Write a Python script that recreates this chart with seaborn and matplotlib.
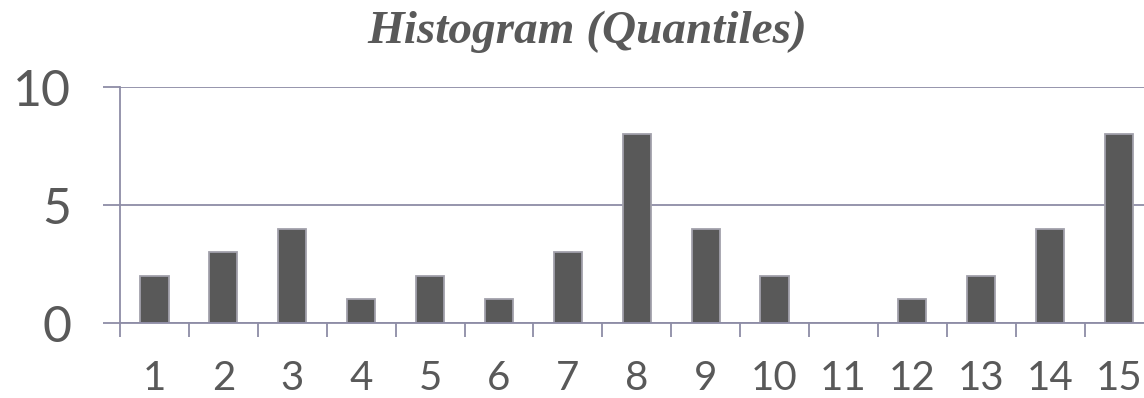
import matplotlib
matplotlib.use("Agg")
import matplotlib.pyplot as plt
import seaborn as sns
import pandas as pd

quantiles = ["1", "2", "3", "4", "5", "6", "7", "8", "9", "10", "11", "12", "13", "14", "15"]
counts = [2, 3, 4, 1, 2, 1, 3, 8, 4, 2, 0, 1, 2, 4, 8]
y_ticks = [0, 5, 10]
title = "Histogram (Quantiles)"

text_color = "#595959"
line_color = "#8e8ca6"
bar_color = "#595959"
edge_color = "#a2a1ab"

sns.set_theme(style="white")
plt.rcParams["font.family"] = ["Lato", "DejaVu Sans"]

df = pd.DataFrame({"quantile": quantiles, "count": counts})

fig = plt.figure(figsize=(11.44, 3.98), dpi=100)
ax = fig.add_axes([120 / 1144, 75 / 398, 1033.5 / 1144, 236 / 398])

sns.barplot(data=df, x="quantile", y="count", order=quantiles, color=bar_color,
            width=0.41, edgecolor=edge_color, linewidth=1.3, saturation=1, ax=ax)

ax.set_ylim(0, 10)
ax.set_xlim(-0.5, len(quantiles) - 0.5)
ax.set_yticks(y_ticks)
ax.set_yticklabels([str(v) for v in y_ticks])
ax.set_xlabel("")
ax.set_ylabel("")

# horizontal gridlines at the major y ticks
ax.yaxis.grid(True, color=line_color, linewidth=1.3)
ax.set_axisbelow(True)

for side in ["top", "right"]:
    ax.spines[side].set_visible(False)
for side in ["left", "bottom"]:
    ax.spines[side].set_color(line_color)
    ax.spines[side].set_linewidth(1.3)

# x ticks sit on the category boundaries, labels at category centres
ax.set_xticks([i - 0.5 for i in range(len(quantiles) + 1)], minor=False)
ax.set_xticklabels([""] * (len(quantiles) + 1))
ax.set_xticks(range(len(quantiles)), minor=True)
ax.set_xticklabels(quantiles, minor=True)
ax.tick_params(axis="x", which="major", direction="out", length=10, width=1.3,
               color=line_color, bottom=True)
ax.tick_params(axis="x", which="minor", length=0, pad=27, labelsize=29,
               labelcolor=text_color, bottom=True)
ax.tick_params(axis="y", direction="out", length=12, width=1.3, color=line_color,
               pad=23, labelsize=36, labelcolor=text_color, left=True)

fig.text(587 / 1144, 1 - 32 / 398, title, ha="center", va="center",
         fontsize=34, fontstyle="italic", fontweight="bold",
         family=["Liberation Serif", "DejaVu Serif"], color=text_color)

fig.savefig("out.png", dpi=100)
